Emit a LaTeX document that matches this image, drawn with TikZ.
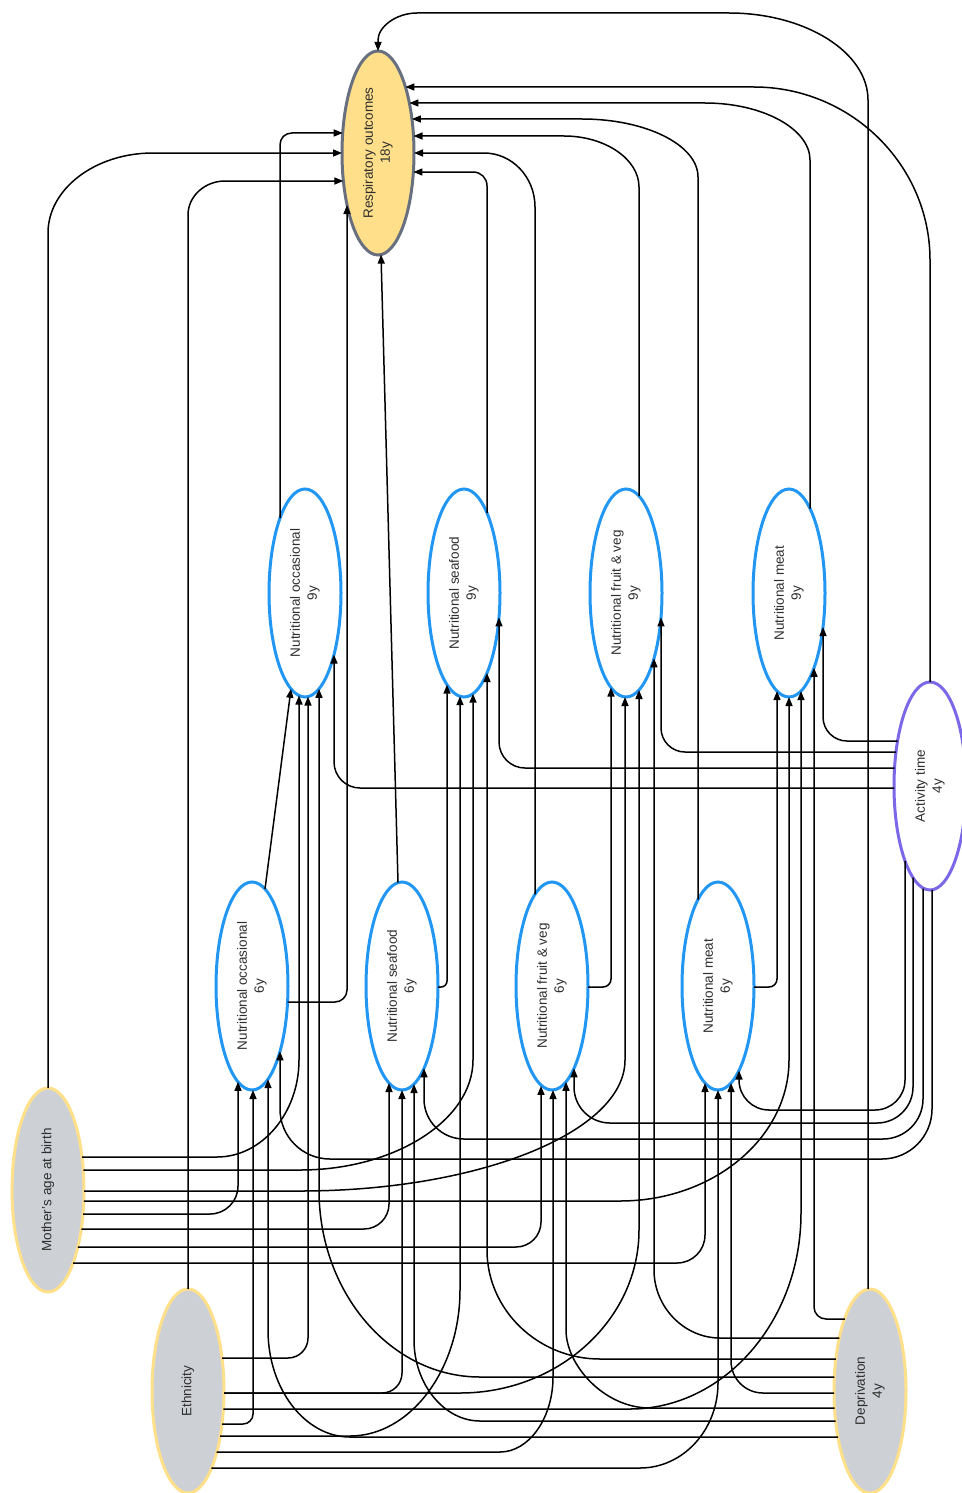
\documentclass[tikz,border=0pt]{standalone}
\usepackage{fontspec}
\setmainfont{Liberation Sans}
\usetikzlibrary{shapes.geometric,arrows.meta,calc}
\definecolor{nutblue}{HTML}{2196F3}
\definecolor{outfill}{HTML}{FFDF8A}
\definecolor{outline}{HTML}{687080}
\definecolor{confill}{HTML}{CDD0D5}
\definecolor{conline}{HTML}{FFE08A}
\definecolor{actline}{HTML}{7B68E8}
\definecolor{labelcol}{HTML}{2E2E2E}
\newcommand{\vlabel}[1]{\rotatebox{90}{\begin{tabular}{@{}c@{}}#1\end{tabular}}}

\begin{document}
\begin{tikzpicture}[x=1pt,y=-1pt,
  var/.style={ellipse, inner sep=0pt, minimum width=72pt, minimum height=208pt,
    line width=3pt, font=\fontsize{13.5}{17}\selectfont, text=labelcol},
  nut/.style={var, draw=nutblue, fill=white},
  outc/.style={var, draw=outline, fill=outfill, minimum height=204pt},
  conf/.style={var, draw=conline, fill=confill, minimum height=204pt},
  act/.style={var, draw=actline, fill=white},
  conn/.style={line width=1.5pt, -{Triangle[length=9pt,width=7pt]}}]

\useasboundingbox (0,0) rectangle (961,1493);

% variables
\node[outc] (R)  at (378,153)  {\vlabel{Respiratory outcomes\\18y}};
\node[nut]  (O9) at (305,593)  {\vlabel{Nutritional occasional\\9y}};
\node[nut]  (S9) at (464,593)  {\vlabel{Nutritional seafood\\9y}};
\node[nut]  (F9) at (626,593)  {\vlabel{Nutritional fruit \& veg\\9y}};
\node[nut]  (M9) at (789,593)  {\vlabel{Nutritional meat\\9y}};
\node[nut]  (O6) at (252,986)  {\vlabel{Nutritional occasional\\6y}};
\node[nut]  (S6) at (402,986)  {\vlabel{Nutritional seafood\\6y}};
\node[nut]  (F6) at (552,986)  {\vlabel{Nutritional fruit \& veg\\6y}};
\node[nut]  (M6) at (718,986)  {\vlabel{Nutritional meat\\6y}};
\node[act]  (A)  at (930,786)  {\vlabel{Activity time\\4y}};
\node[conf] (MA) at (48,1190)  {\vlabel{Mother’s age at birth}};
\node[conf] (E)  at (188,1391) {\vlabel{Ethnicity}};
\node[conf] (D)  at (870,1391) {\vlabel{Deprivation\\4y}};

% arrows into the outcome
\draw[conn] ($(A)+(0,-104)$) -- (930,260) .. controls (930,165) and (851,87) .. (754,87) -- ($(R)+(27.4,-66)$);
\draw[conn] ($(M9)+(21,-84.5)$) -- (810,160) .. controls (810,129) and (763,103) .. (705,103) -- ($(R)+(31.4,-50)$);
\draw[conn] ($(M6)+(-20,-86.5)$) -- (698,177) .. controls (698,145) and (646,119) .. (582,119) -- ($(R)+(33.9,-34)$);
\draw[conn] ($(F9)+(13,-97)$) -- (639,187) .. controls (639,159) and (605,136) .. (564,136) -- ($(R)+(35.5,-17)$);
\draw[conn] ($(F6)+(-17,-91.7)$) -- (535,207) .. controls (535,177) and (512,153) .. (484,153) -- ($(R)+(36,0)$);
\draw[conn] ($(S9)+(23,-80)$) -- (487,186) .. controls (487,178) and (481,172) .. (473,172) -- ($(R)+(35.4,19)$);
\draw[conn] ($(O9)+(-25,-74.8)$) -- (280,145) .. controls (280,138) and (285,133) .. (292,133) -- ($(R)+(-35.3,-20)$);
\draw[conn] ($(MA)+(0,-102)$) -- (48,233) .. controls (48,189) and (95,153) .. (153,153) -- ($(R)+(-36,0)$);
\draw[conn] ($(E)+(0,-102)$) -- (188,215) .. controls (188,196) and (205,181) .. (225,181) -- ($(R)+(-34.6,28)$);
\draw[conn] ($(O6)+(35.5,16)$) -- (335,1002) .. controls (341.6,1002) and (347,996.6) .. (347,990) -- ($(R)+(-31,52)$);
\draw[conn] ($(S6)+(-4,-103.5)$) -- ($(R)+(3,101.6)$);
\draw[conn] ($(D)+(-2,-102)$) -- (868,100) .. controls (868,52) and (805,13) .. (729,13) -- (417,13) .. controls (396,13) and (378,27) .. (378,40) -- ($(R)+(0,-102)$);

% 6y to 9y
\draw[conn] ($(O6)+(13,-97)$) -- ($(O9)+(-14,95.8)$);
\draw[conn, rounded corners=6pt] ($(S6)+(36,1)$) -| ($(S9)+(-17,91.7)$);
\draw[conn, rounded corners=8pt] ($(F6)+(36,1)$) -| ($(F9)+(-15,94.5)$);
\draw[conn, rounded corners=8pt] ($(M6)+(36,1)$) -| ($(M9)+(-12,98.1)$);

% mother's age at birth
\draw[conn] ($(MA)+(34,-33)$) -- (217,1157) .. controls (262,1157) and (299,1113) .. (299,1060) -- ($(O9)+(-6,102.5)$);
\draw[conn] ($(MA)+(35.3,-20)$) -- (300,1170) .. controls (395,1170) and (473,1120) .. (473,1060) -- ($(S9)+(9,100.7)$);
\draw[conn] ($(MA)+(36,1)$) -- (300,1191) .. controls (479,1191) and (625,1132) .. (625,1060) -- ($(F9)+(-1,104)$);
\draw[conn] ($(MA)+(35.8,11)$) -- (620,1201) .. controls (713,1201) and (789,1138) .. (789,1060) -- ($(M9)+(0,104)$);
\draw[conn, rounded corners=28pt] ($(MA)+(35,24)$) -| ($(O6)+(-14,95.8)$);
\draw[conn, rounded corners=25pt] ($(MA)+(33.3,39)$) -| ($(S6)+(-13,97)$);
\draw[conn, rounded corners=25pt] ($(MA)+(29.9,57)$) -| ($(F6)+(-11,99.9)$);
\draw[conn, rounded corners=28pt] ($(MA)+(25.1,73)$) -| ($(M6)+(-13,97)$);

% ethnicity
\draw[conn, rounded corners=20pt] ($(E)+(34,-33)$) -| ($(O9)+(3,103.6)$);
\draw[conn, rounded corners=20pt] ($(E)+(36,2)$) -| ($(S6)+(0,104)$);
\draw[conn] ($(E)+(36,2)$) -- (460,1393) .. controls (558,1393) and (639,1320) .. (639,1230) -- ($(F9)+(13,97)$);
\draw[conn] ($(E)+(35.4,18)$) -- (630,1409) .. controls (724,1409) and (801,1321) .. (801,1213) -- ($(M9)+(12,98.1)$);
\draw[conn, rounded corners=10pt] ($(E)+(34,33)$) -| ($(O6)+(1,104)$);
\draw[conn] ($(E)+(32.2,45)$) -- (350,1436) .. controls (410,1436) and (460,1370) .. (460,1290) -- ($(S9)+(-4,103.2)$);
\draw[conn] ($(E)+(28.7,61)$) -- (500,1452) .. controls (529,1452) and (553,1418) .. (553,1377) -- ($(F6)+(1,104)$);
\draw[conn] ($(E)+(23.3,77)$) -- (640,1468) .. controls (683,1468) and (718,1430) .. (718,1383) -- ($(M6)+(0,104)$);

% deprivation
\draw[conn, rounded corners=12pt] ($(D)+(-25.2,-72)$) -| ($(M9)+(25,74.8)$);
\draw[conn] ($(D)+(-30.6,-53)$) -- (720,1338) .. controls (684,1338) and (654,1307) .. (654,1270) -- ($(F9)+(28,65.4)$);
\draw[conn] ($(D)+(-34.1,-32)$) -- (600,1359) .. controls (538,1359) and (487,1310) .. (487,1250) -- ($(S9)+(23,80)$);
\draw[conn] ($(D)+(-35.6,-14)$) -- (480,1377) .. controls (391,1377) and (319,1293) .. (319,1190) -- ($(O9)+(14,95.8)$);
\draw[conn, rounded corners=32pt] ($(D)+(-36,2)$) -| ($(M6)+(13,97)$);
\draw[conn] ($(D)+(-35.5,17)$) -- (650,1408) .. controls (604,1408) and (566,1365) .. (566,1330) -- ($(F6)+(14,95.8)$);
\draw[conn] ($(D)+(-34.4,30)$) -- (480,1421) .. controls (444,1421) and (414,1384) .. (414,1340) -- ($(S6)+(12,98.1)$);
\draw[conn] ($(D)+(-32,46)$) -- (350,1437) .. controls (305,1437) and (268,1389) .. (268,1330) -- ($(O6)+(16,93.2)$);

% activity time
\draw[conn, rounded corners=24pt] ($(A)+(-32.5,-45)$) -| ($(M9)+(34,34)$);
\draw[conn, rounded corners=24pt] ($(A)+(-34,-34)$) -| ($(F9)+(35,24.4)$);
\draw[conn, rounded corners=26pt] ($(A)+(-35.5,-18)$) -| ($(S9)+(35,24.4)$);
\draw[conn, rounded corners=26pt] ($(A)+(-36,2)$) -| ($(O9)+(29,61.6)$);
\draw[conn, rounded corners=30pt] ($(A)+(-25,74.8)$) -- (905,1110) -- (739,1110) -- ($(M6)+(21,84.5)$);
\draw[conn, rounded corners=36pt] ($(A)+(-17,91.7)$) -- (913,1123) -- (574,1123) -- ($(F6)+(22,82.3)$);
\draw[conn, rounded corners=40pt] ($(A)+(-7,102.5)$) -- (923,1139) -- (424,1139) -- ($(S6)+(22,82.3)$);
\draw[conn, rounded corners=50pt] ($(A)+(2,104)$) -- (932,1159) -- (280,1159) -- ($(O6)+(28,65.4)$);

\end{tikzpicture}
\end{document}
